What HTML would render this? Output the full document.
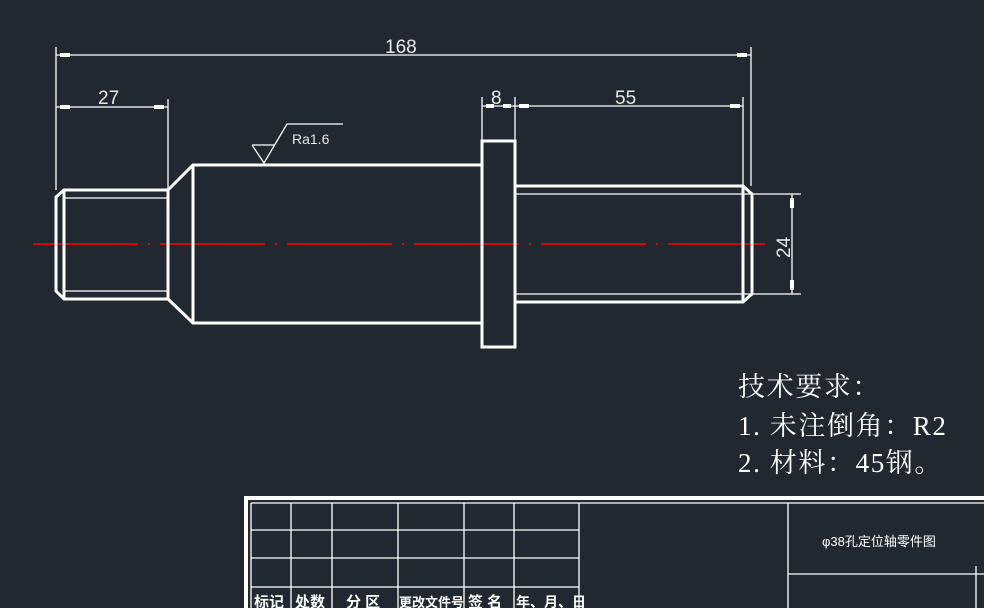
<!DOCTYPE html>
<html><head><meta charset="utf-8"><style>
html,body{margin:0;padding:0;background:#212830;}
svg{display:block}
</style></head><body>
<svg width="984" height="608" viewBox="0 0 984 608" xmlns="http://www.w3.org/2000/svg">
<rect width="984" height="608" fill="#212830"/>
<line x1="33" y1="244" x2="765" y2="244" stroke="#ff0000" stroke-width="1.5" stroke-dasharray="105,10,2,10"/>
<g fill="none" stroke="#fff" stroke-width="3">
<path d="M64,190 L168,190 L168,299 L64,299 L56,291 L56,197 Z"/>
<line x1="64" y1="190" x2="64" y2="299"/>
<path d="M168,190 L193,165 L482,165 M168,299 L193,323 L482,323 M193,165 L193,323"/>
<rect x="482" y="141" width="33" height="206"/>
<path d="M515,186 L743,186 L752,194 L752,294 L743,302 L515,302 M743,186 L743,302"/>
</g>
<g stroke="#fff" stroke-width="1.3" fill="none">
<line x1="64" y1="198" x2="168" y2="198"/>
<line x1="64" y1="291" x2="168" y2="291"/>
<line x1="515" y1="194" x2="752" y2="194"/>
<line x1="515" y1="294" x2="752" y2="294"/>
<line x1="56" y1="47" x2="56" y2="190"/>
<line x1="751" y1="47" x2="751" y2="186"/>
<line x1="56" y1="55" x2="751" y2="55"/>
<line x1="168" y1="99" x2="168" y2="190"/>
<line x1="56" y1="107" x2="168" y2="107"/>
<line x1="482" y1="97" x2="482" y2="141"/>
<line x1="515" y1="97" x2="515" y2="186"/>
<line x1="743" y1="97" x2="743" y2="186"/>
<line x1="482" y1="106" x2="515" y2="106"/>
<line x1="515" y1="106" x2="743" y2="106"/>
<line x1="752" y1="194" x2="801" y2="194"/>
<line x1="752" y1="294" x2="801" y2="294"/>
<line x1="792" y1="194" x2="792" y2="294"/>
<path d="M252,145 L275,145 M252,145 L264,163 L287,124 L343,124"/>
</g>
<g fill="#fff">
<rect x="60" y="53" width="10" height="4"/><rect x="737" y="53" width="10" height="4"/>
<rect x="60" y="105" width="10" height="4"/><rect x="154" y="105" width="10" height="4"/>
<rect x="486" y="104" width="8" height="4"/><rect x="503" y="104" width="8" height="4"/>
<rect x="519" y="104" width="10" height="4"/><rect x="730" y="104" width="10" height="4"/>
<rect x="790" y="198" width="4" height="10"/><rect x="790" y="280" width="4" height="10"/>
</g>
<g fill="#e8e8e8" font-family="Liberation Sans, sans-serif" font-size="19">
<text x="385" y="53">168</text>
<text x="98" y="104">27</text>
<text x="491" y="104">8</text>
<text x="615" y="104">55</text>
<text transform="translate(790,258) rotate(-90)">24</text>
<text x="292" y="144" font-size="14">Ra1.6</text>
</g>
<g fill="#fff" font-family="Liberation Serif, Noto Serif CJK SC, serif" font-size="27" letter-spacing="1.6">
<text x="738" y="396">技术要求：</text>
<text x="738" y="435">1. 未注倒角：R2</text>
<text x="738" y="472">2. 材料：45钢。</text>
</g>
<g stroke="#fff" fill="none">
<path d="M246,608 L246,498 L984,498" stroke-width="4"/>
<g stroke-width="1.3">
<line x1="251" y1="503" x2="984" y2="503"/>
<line x1="251" y1="503" x2="251" y2="608"/>
<line x1="251" y1="530" x2="579" y2="530"/>
<line x1="251" y1="558" x2="579" y2="558"/>
<line x1="251" y1="587" x2="579" y2="587"/>
<line x1="291" y1="503" x2="291" y2="608"/>
<line x1="332" y1="503" x2="332" y2="608"/>
<line x1="398" y1="503" x2="398" y2="608"/>
<line x1="464" y1="503" x2="464" y2="608"/>
<line x1="514" y1="503" x2="514" y2="608"/>
<line x1="579" y1="503" x2="579" y2="608"/>
<line x1="788" y1="503" x2="788" y2="608"/>
<line x1="788" y1="574" x2="984" y2="574"/>
<line x1="976" y1="566" x2="976" y2="608"/>
</g></g>
<g fill="#fff" font-family="Liberation Sans, Noto Sans CJK SC, sans-serif" font-size="15" font-weight="bold">
<text x="254" y="607">标记</text>
<text x="295" y="607">处数</text>
<text x="346" y="607">分 区</text>
<text x="399" y="607" font-size="13">更改文件号</text>
<text x="468" y="607">签 名</text>
<text x="516" y="607" font-size="14">年、月、日</text>
</g>
<text x="822" y="546" fill="#fff" font-family="Liberation Sans, Noto Sans CJK SC, sans-serif" font-size="13">φ38孔定位轴零件图</text>
</svg>
</body></html>
